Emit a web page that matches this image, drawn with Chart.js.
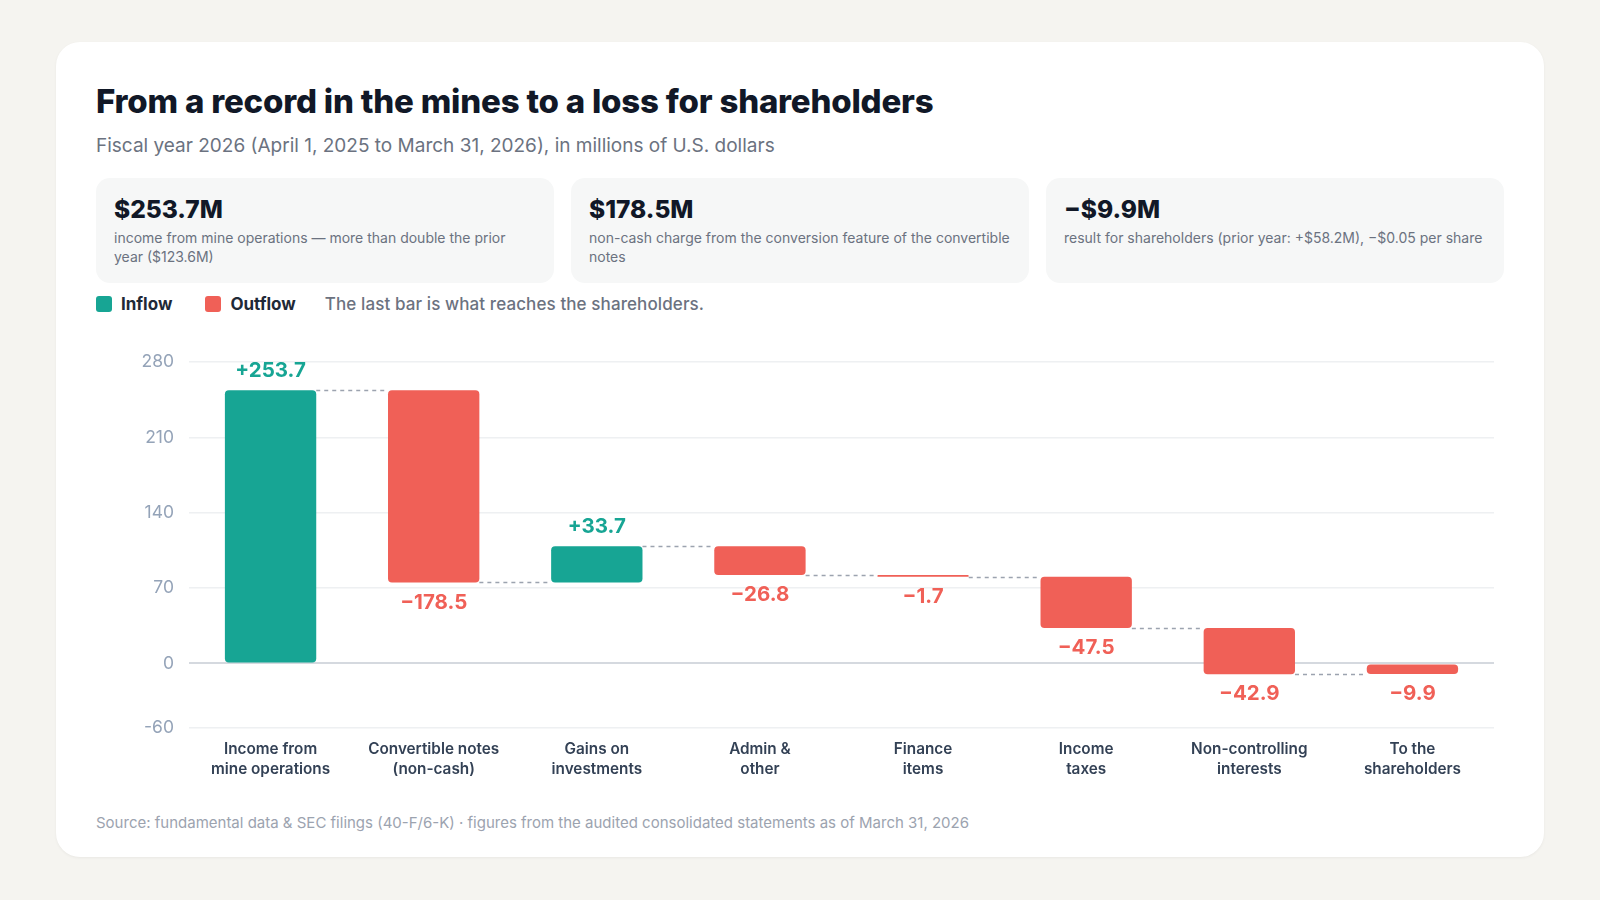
<!DOCTYPE html>
<html>
<head>
<meta charset="utf-8">
<script src="https://cdn.jsdelivr.net/npm/chart.js@4.4.1/dist/chart.umd.min.js"></script>
<style>
    html, body { margin: 0; padding: 0; }
    body {
        width: 1600px; height: 900px; background: #f5f4f0;
        font-family: "Inter", "Noto Sans", sans-serif; position: relative; overflow: hidden;
    }
    .card {
        position: absolute; left: 56px; top: 42px; width: 1408px; height: 815px;
        padding: 0 40px; background: #fff; border-radius: 24px;
        box-shadow: 0 1px 3px rgba(0,0,0,0.05);
    }
    h1 { margin: 39px 0 0; font-size: 33px; line-height: 40px; font-weight: 800; color: #111827; letter-spacing: -0.2px; }
    .sub { margin-top: 13px; font-size: 19px; line-height: 24px; color: #6b7280; }
    .kpis { display: flex; gap: 17px; margin-top: 20px; }
    .kpi { flex: 1; height: 105px; box-sizing: border-box; padding: 16px 18px 0; background: #f6f7f7; border-radius: 14px; }
    .kpi .v { font-size: 24.5px; line-height: 30px; font-weight: 800; color: #111827; }
    .kpi .d { margin-top: 4px; font-size: 14px; line-height: 19px; color: #6b7280; }
    .legend { margin-top: 10px; display: flex; align-items: center; height: 22px; font-size: 17px; }
    .sw { width: 16px; height: 16px; border-radius: 3px; margin-right: 9px; }
    .lab { font-weight: 700; color: #1f2937; margin-right: 33px; }
    .note { color: #6b7280; font-weight: 500; margin-left: -4px; letter-spacing: 0.1px; }
    .chart { position: absolute; left: 40px; top: 292px; width: 1408px; height: 451px; }
    .foot { position: absolute; left: 40px; top: 771px; font-size: 15px; line-height: 20px; color: #9ca3af; }
</style>
</head>
<body>
<div class="card">
    <h1>From a record in the mines to a loss for shareholders</h1>
    <div class="sub">Fiscal year 2026 (April 1, 2025 to March 31, 2026), in millions of U.S. dollars</div>
    <div class="kpis">
        <div class="kpi"><div class="v">$253.7M</div><div class="d">income from mine operations — more than double the prior year ($123.6M)</div></div>
        <div class="kpi"><div class="v">$178.5M</div><div class="d">non-cash charge from the conversion feature of the convertible notes</div></div>
        <div class="kpi"><div class="v">−$9.9M</div><div class="d">result for shareholders (prior year: +$58.2M), −$0.05 per share</div></div>
    </div>
    <div class="legend">
        <div class="sw" style="background:#17a594"></div><span class="lab">Inflow</span>
        <div class="sw" style="background:#f06057"></div><span class="lab">Outflow</span>
        <span class="note">The last bar is what reaches the shareholders.</span>
    </div>
    <div class="chart"><canvas id="wf"></canvas></div>
    <div class="foot">Source: fundamental data &amp; SEC filings (40-F/6-K) · figures from the audited consolidated statements as of March 31, 2026</div>
</div>
<script>
(function () {
    var categories = [
        ['Income from', 'mine operations'],
        ['Convertible notes', '(non-cash)'],
        ['Gains on', 'investments'],
        ['Admin &', 'other'],
        ['Finance', 'items'],
        ['Income', 'taxes'],
        ['Non-controlling', 'interests'],
        ['To the', 'shareholders']
    ];
    var changes = [253.7, -178.5, 33.7, -26.8, -1.7, -47.5, -42.9];
    var finalResult = -9.9;
    var tickValues = [-60, 0, 70, 140, 210, 280];

    var INFLOW = '#17a594', OUTFLOW = '#f06057';

    // floating bars: [start, end] from the running total
    var ranges = [], levels = [], shown = [];
    var run = 0;
    changes.forEach(function (c) {
        ranges.push([run, run + c]);
        run += c;
        levels.push(run);
        shown.push(c);
    });
    ranges.push([0, finalResult]);
    shown.push(finalResult);

    function fmt(v) {
        return (v > 0 ? '+' : '\u2212') + Math.abs(v).toFixed(1);
    }

    var waterfallExtras = {
        id: 'waterfallExtras',
        afterDatasetsDraw: function (chart) {
            var ctx = chart.ctx;
            var meta = chart.getDatasetMeta(0);
            var y = chart.scales.y;
            ctx.save();
            // dashed connectors
            ctx.strokeStyle = '#9ca3af';
            ctx.lineWidth = 1.5;
            ctx.setLineDash([4, 4]);
            for (var i = 0; i < levels.length; i++) {
                var a = meta.data[i], b = meta.data[i + 1];
                var py = Math.round(y.getPixelForValue(levels[i])) + 0.5;
                ctx.beginPath();
                ctx.moveTo(a.x + a.width / 2, py);
                ctx.lineTo(b.x - b.width / 2, py);
                ctx.stroke();
            }
            ctx.setLineDash([]);
            // value labels
            ctx.font = '700 20.5px Inter';
            ctx.textAlign = 'center';
            ctx.textBaseline = 'middle';
            shown.forEach(function (v, i) {
                var r = ranges[i];
                var bar = meta.data[i];
                if (v > 0) {
                    ctx.fillStyle = INFLOW;
                    ctx.fillText(fmt(v), bar.x, y.getPixelForValue(Math.max(r[0], r[1])) - 19);
                } else {
                    ctx.fillStyle = OUTFLOW;
                    ctx.fillText(fmt(v), bar.x, y.getPixelForValue(Math.min(r[0], r[1])) + 20);
                }
            });
            ctx.restore();
        }
    };

    new Chart(document.getElementById('wf'), {
        type: 'bar',
        data: {
            labels: categories,
            datasets: [{
                data: ranges,
                backgroundColor: shown.map(function (v) { return v > 0 ? INFLOW : OUTFLOW; }),
                borderRadius: 4,
                borderSkipped: false,
                barPercentage: 0.56,
                categoryPercentage: 1
            }]
        },
        options: {
            responsive: true,
            maintainAspectRatio: false,
            animation: false,
            layout: { padding: { top: 28, right: 10, bottom: 2, left: 0 } },
            plugins: { legend: { display: false }, tooltip: { enabled: false } },
            scales: {
                x: {
                    grid: { display: false },
                    border: { display: false },
                    ticks: { color: '#334155', font: { family: 'Inter', size: 15.3, weight: '600', lineHeight: 1.34 }, padding: 3 }
                },
                y: {
                    min: -60,
                    max: 280,
                    afterBuildTicks: function (scale) {
                        scale.ticks = tickValues.map(function (v) { return { value: v }; });
                    },
                    afterFit: function (scale) { scale.width = 93; },
                    border: { display: false },
                    grid: {
                        drawTicks: false,
                        color: function (c) { return c.tick && c.tick.value === 0 ? '#d5d9df' : '#eef0f2'; },
                        lineWidth: function (c) { return c.tick && c.tick.value === 0 ? 2 : 1.5; }
                    },
                    ticks: { color: '#94a3b8', font: { family: 'Inter', size: 17.5 }, padding: 15 }
                }
            }
        },
        plugins: [waterfallExtras]
    });
})();
</script>
</body>
</html>
